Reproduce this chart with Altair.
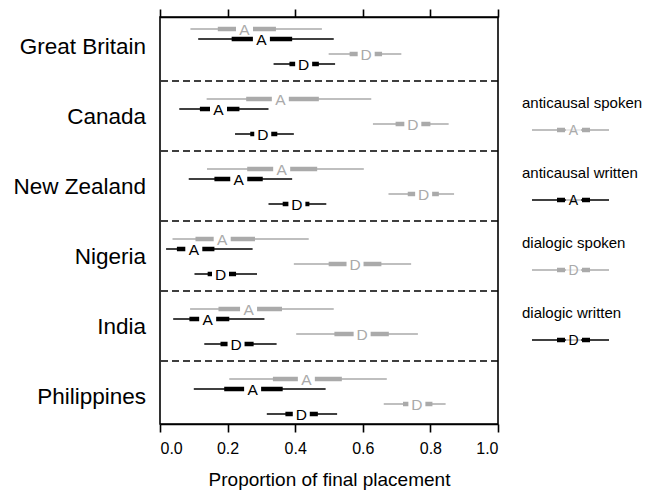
import altair as alt
import pandas as pd

countries = ["Great Britain", "Canada", "New Zealand", "Nigeria", "India", "Philippines"]
series_names = ["anticausal spoken", "anticausal written", "dialogic spoken", "dialogic written"]
series_letters = ["A", "A", "D", "D"]
series_colors = ["#aaaaaa", "#000000", "#aaaaaa", "#000000"]

# anticausal spoken
as_wlo = [0.090, 0.138, 0.139, 0.037, 0.089, 0.205]
as_qlo = [0.171, 0.255, 0.258, 0.105, 0.173, 0.334]
as_med = [0.250, 0.356, 0.360, 0.184, 0.262, 0.433]
as_qhi = [0.343, 0.470, 0.465, 0.281, 0.361, 0.538]
as_whi = [0.479, 0.625, 0.603, 0.440, 0.514, 0.671]
# anticausal written
aw_wlo = [0.113, 0.057, 0.085, 0.018, 0.039, 0.100]
aw_qlo = [0.212, 0.118, 0.161, 0.050, 0.087, 0.190]
aw_med = [0.300, 0.173, 0.233, 0.100, 0.141, 0.274]
aw_qhi = [0.391, 0.235, 0.304, 0.161, 0.205, 0.363]
aw_whi = [0.514, 0.321, 0.391, 0.274, 0.309, 0.490]
# dialogic spoken
ds_wlo = [0.499, 0.630, 0.676, 0.396, 0.403, 0.662]
ds_qlo = [0.561, 0.697, 0.733, 0.499, 0.516, 0.719]
ds_med = [0.610, 0.748, 0.780, 0.577, 0.598, 0.760]
ds_qhi = [0.657, 0.800, 0.825, 0.655, 0.677, 0.806]
ds_whi = [0.714, 0.854, 0.870, 0.743, 0.763, 0.845]
# dialogic written
dw_wlo = [0.336, 0.222, 0.321, 0.102, 0.131, 0.316]
dw_qlo = [0.383, 0.267, 0.363, 0.141, 0.179, 0.371]
dw_med = [0.425, 0.304, 0.405, 0.179, 0.225, 0.418]
dw_qhi = [0.470, 0.347, 0.442, 0.225, 0.277, 0.467]
dw_whi = [0.518, 0.396, 0.492, 0.287, 0.345, 0.524]

x_ticks = [0.0, 0.2, 0.4, 0.6, 0.8, 1.0]

all_series = [
    (as_wlo, as_qlo, as_med, as_qhi, as_whi),
    (aw_wlo, aw_qlo, aw_med, aw_qhi, aw_whi),
    (ds_wlo, ds_qlo, ds_med, ds_qhi, ds_whi),
    (dw_wlo, dw_qlo, dw_med, dw_qhi, dw_whi),
]
row_offsets = [18 / 70, 28 / 70, 43 / 70, 53 / 70]

rows = []
for s_i, (wlo, qlo, med, qhi, whi) in enumerate(all_series):
    for c_i, c in enumerate(countries):
        rows.append(dict(country=c, series=series_names[s_i], letter=series_letters[s_i],
                         y=c_i + row_offsets[s_i], wlo=wlo[c_i], qlo=qlo[c_i],
                         med=med[c_i], qhi=qhi[c_i], whi=whi[c_i]))
df = pd.DataFrame(rows)

sep_df = pd.DataFrame({"y": [1, 2, 3, 4, 5]})
lab_df = pd.DataFrame({"country": countries, "y": [i + 0.52 for i in range(len(countries))]})
leg_df = pd.DataFrame({"series": series_names, "letter": series_letters,
                       "ty": [k + 1 + 22 / 70 for k in range(4)],
                       "gy": [k + 1 + 49 / 70 for k in range(4)]})

yscale = alt.Scale(domain=[0.086, 5.9], reverse=True, nice=False, zero=False)
xscale = alt.Scale(domain=[0, 1], nice=False)
cscale = alt.Scale(domain=series_names, range=series_colors)
color = alt.Color("series:N", scale=cscale, legend=None)

Y = alt.Y("y:Q", scale=yscale, axis=None)

seps = alt.Chart(sep_df).mark_rule(color="black", strokeWidth=1.6, strokeDash=[7, 4]).encode(
    y=alt.Y("y:Q", scale=yscale, axis=None))

thin = alt.Chart(df).mark_rule(strokeWidth=1.6).encode(
    x=alt.X("wlo:Q", scale=xscale,
            axis=alt.Axis(values=x_ticks, format=".1f", title="Proportion of final placement",
                          orient="bottom", grid=False)),
    x2="whi:Q", y=Y, color=color)

thick = alt.Chart(df).mark_rule(strokeWidth=4.5).encode(
    x=alt.X("qlo:Q", scale=xscale,
            axis=alt.Axis(values=x_ticks, labels=False, title=None, orient="top", grid=False)),
    x2="qhi:Q", y=Y, color=color)

box = alt.Chart(df).mark_tick(orient="vertical", thickness=17, size=8, color="white", opacity=1).encode(
    x=alt.X("med:Q", scale=xscale, axis=None), y=Y)

letters = alt.Chart(df).mark_text(fontSize=15.5, baseline="middle", align="center", dy=1).encode(
    x=alt.X("med:Q", scale=xscale, axis=None), y=Y, text="letter:N", color=color)

labels = alt.Chart(lab_df).mark_text(fontSize=22.5, align="right", baseline="middle", color="black").encode(
    x=alt.value(-14), y=alt.Y("y:Q", scale=yscale, axis=None), text="country:N")

leg_text = alt.Chart(leg_df).mark_text(fontSize=15, align="left", baseline="middle", color="black").encode(
    x=alt.value(362), y=alt.Y("ty:Q", scale=yscale, axis=None), text="series:N")
leg_thin = alt.Chart(leg_df).mark_rule(strokeWidth=1.6).encode(
    x=alt.value(372), x2=alt.value(449), y=alt.Y("gy:Q", scale=yscale, axis=None), color=color)
leg_thick1 = alt.Chart(leg_df).mark_rule(strokeWidth=4.5).encode(
    x=alt.value(397), x2=alt.value(405), y=alt.Y("gy:Q", scale=yscale, axis=None), color=color)
leg_thick2 = alt.Chart(leg_df).mark_rule(strokeWidth=4.5).encode(
    x=alt.value(422), x2=alt.value(430), y=alt.Y("gy:Q", scale=yscale, axis=None), color=color)
leg_box = alt.Chart(leg_df).mark_tick(orient="vertical", thickness=15, size=8, color="white").encode(
    x=alt.value(413.5), y=alt.Y("gy:Q", scale=yscale, axis=None))
leg_letter = alt.Chart(leg_df).mark_text(fontSize=14, align="center", baseline="middle", dy=1).encode(
    x=alt.value(413.5), y=alt.Y("gy:Q", scale=yscale, axis=None), text="letter:N", color=color)

chart = alt.layer(
    seps, thin, thick, box, letters, labels,
    leg_text, leg_thin, leg_thick1, leg_thick2, leg_box, leg_letter
).resolve_axis(x="independent").properties(
    width=338, height=407,
    autosize=alt.AutoSizeParams(type="none"),
    padding={"left": 160, "top": 17, "right": 149, "bottom": 68},
).configure(font="Liberation Sans").configure_view(
    stroke="black", strokeWidth=1.6
).configure_axis(
    domainColor="black", domainWidth=1.6, tickColor="black", tickWidth=1.6, tickSize=8,
    labelColor="black", labelFontSize=16, labelPadding=8, titleColor="black",
    titleFontSize=19, titleFontWeight="normal", titlePadding=14, labelFont="Liberation Sans",
    titleFont="Liberation Sans"
)

chart.save("out.html", embed_options={"renderer": "svg", "actions": False})
